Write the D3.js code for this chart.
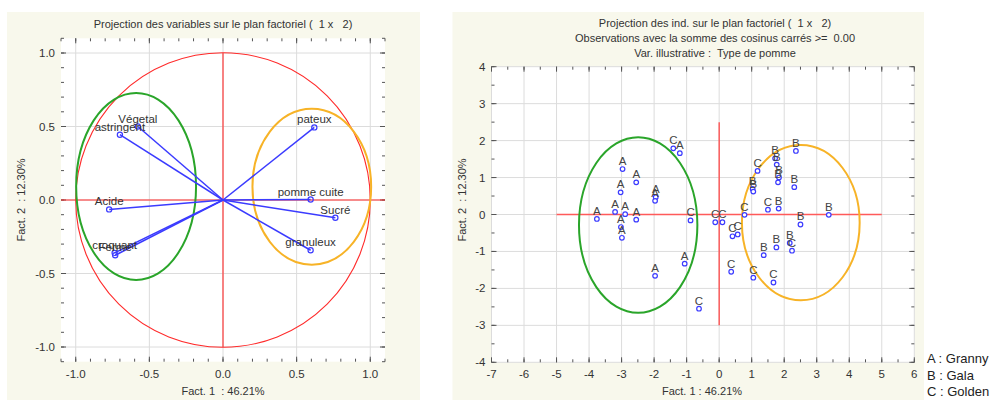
<!DOCTYPE html>
<html><head><meta charset="utf-8">
<script src="https://cdn.jsdelivr.net/npm/d3@7/dist/d3.min.js"></script>
<style>body{margin:0;background:#fff}svg{display:block;font-family:"Liberation Sans",Arial,sans-serif}</style>
</head><body>
<svg id="c" width="997" height="400"></svg>
<script>
// ---------- data: variables (left) ----------
const varNames = ["Végetal","astringent","pateux","pomme cuite","Sucré","granuleux","Acide","croquant","Ferme"];
const varF1 = [-0.578,-0.700,0.620,0.595,0.763,0.595,-0.773,-0.736,-0.732];
const varF2 = [0.500,0.444,0.494,0.003,-0.121,-0.342,-0.064,-0.360,-0.376];
const leftTicks = [-1,-0.5,0,0.5,1];
const leftEllipseCX = [-0.59, 0.603];
const leftEllipseCY = [0.092, 0.09];
const leftEllipseRX = [0.407, 0.403];
const leftEllipseRY = [0.636, 0.53];

// ---------- data: individuals (right) ----------
const indGroup = [
 "A","A","A","A","A","A","A","A","A","A","A","A","A","A",
 "B","B","B","B","B","B","B","B","B","B","B","B","B","B",
 "C","C","C","C","C","C","C","C","C","C","C","C","C","C"];
const indF1 = [
 -1.21,-2.97,-2.55,-3.03,-1.95,-1.97,-3.76,-3.20,-2.89,-2.55,-3.02,-2.99,-1.06,-1.97,
 2.36,1.72,1.77,1.84,1.81,1.03,1.05,2.31,1.83,2.50,3.37,1.76,2.17,1.37,
 -1.41,1.18,1.50,0.78,-0.88,-0.12,0.10,0.41,0.57,2.24,0.37,1.05,1.67,-0.62];
const indF2 = [
 1.66,1.23,0.87,0.60,0.47,0.37,-0.12,0.07,0.01,-0.14,-0.34,-0.63,-1.33,-1.66,
 1.72,1.52,1.35,1.00,0.87,0.69,0.62,0.74,0.16,-0.27,-0.01,-0.89,-0.77,-1.10,
 1.79,1.18,0.13,-0.01,-0.16,-0.21,-0.21,-0.59,-0.54,-0.98,-1.55,-1.71,-1.84,-2.55];
const rightXTicks = [-7,-6,-5,-4,-3,-2,-1,0,1,2,3,4,5,6];
const rightYTicks = [-4,-3,-2,-1,0,1,2,3,4];
const rightEllipseCX = [-2.49, 2.51];
const rightEllipseCY = [-0.285, -0.22];
const rightEllipseRX = [1.82, 1.81];
const rightEllipseRY = [2.375, 2.10];
const legendItems = ["A : Granny","B : Gala","C : Golden"];

const svg = d3.select("#c");
const BG = "#f8f8ec", TXT = "#333", FRAME = "#555", GRID = "#dcdcdc";
const BLUE = "#3b3bff", RED = "#ff2a2a", GREEN = "#2aa52a", ORANGE = "#f7b327";

// panels
svg.append("rect").attr("x",7).attr("y",12).attr("width",413).attr("height",388).attr("fill",BG);
svg.append("rect").attr("x",452.5).attr("y",12).attr("width",471.5).attr("height",388).attr("fill",BG);

function frame(g, x, y, minorX, minorY, xt, yt, fmt, xLabelY) {
  const [x0,x1] = x.range(), [y1,y0] = y.range();
  g.append("rect").attr("x",x0).attr("y",y0).attr("width",x1-x0).attr("height",y1-y0).attr("fill","#fff");
  g.selectAll(".gx").data(xt).join("line").attr("x1",d=>x(d)).attr("x2",d=>x(d)).attr("y1",y0).attr("y2",y1)
    .attr("stroke",GRID).attr("stroke-width",1);
  g.selectAll(".gy").data(yt).join("line").attr("class","gy").attr("y1",d=>y(d)).attr("y2",d=>y(d)).attr("x1",x0).attr("x2",x1)
    .attr("stroke",GRID).attr("stroke-width",1);
  const tk = g.append("g").attr("stroke",FRAME).attr("stroke-width",1);
  const addT = (vals, len, horiz) => vals.forEach(v => {
    if (horiz) {
      tk.append("line").attr("x1",x(v)).attr("x2",x(v)).attr("y1",y1).attr("y2",y1-len);
      tk.append("line").attr("x1",x(v)).attr("x2",x(v)).attr("y1",y0).attr("y2",y0+len);
    } else {
      tk.append("line").attr("y1",y(v)).attr("y2",y(v)).attr("x1",x0).attr("x2",x0+len);
      tk.append("line").attr("y1",y(v)).attr("y2",y(v)).attr("x1",x1).attr("x2",x1-len);
    }
  });
  addT(minorX,3,true); addT(minorY,3,false); addT(xt,5,true); addT(yt,5,false);
  g.selectAll(".lx").data(xt).join("text").attr("x",d=>x(d)).attr("y",y1+16).attr("text-anchor","middle")
    .attr("font-size",11.5).attr("fill",TXT).text(fmt);
  g.selectAll(".ly").data(yt).join("text").attr("class","ly").attr("x",x0-6).attr("y",d=>y(d)+4).attr("text-anchor","end")
    .attr("font-size",11.5).attr("fill",TXT).text(fmt);
  return [x0,x1,y0,y1];
}

// ---------- left chart ----------
const xL = d3.scaleLinear().domain([-1.1,1.1]).range([61,385]);
const yL = d3.scaleLinear().domain([-1.1,1.1]).range([361.7,38.3]);
const gL = svg.append("g");
const minL = d3.range(-11,12).map(i=>i/10);
frame(gL, xL, yL, minL, minL, leftTicks, leftTicks, d=>d3.format(".1f")(d).replace("−","-"));
gL.append("circle").attr("cx",xL(0)).attr("cy",yL(0)).attr("r",xL(1)-xL(0)).attr("fill","none").attr("stroke",RED).attr("stroke-width",1.1);
gL.append("line").attr("x1",xL(-1.1)).attr("x2",xL(1.1)).attr("y1",yL(0)).attr("y2",yL(0)).attr("stroke",RED).attr("stroke-width",1.1);
gL.append("line").attr("x1",xL(0)).attr("x2",xL(0)).attr("y1",yL(1)).attr("y2",yL(-1)).attr("stroke",RED).attr("stroke-width",1.1);
const lCols=[GREEN,ORANGE];
leftEllipseCX.forEach((cx,i)=>{
  gL.append("ellipse").attr("cx",xL(cx)).attr("cy",yL(leftEllipseCY[i]))
    .attr("rx",xL(leftEllipseRX[i])-xL(0)).attr("ry",yL(0)-yL(leftEllipseRY[i]))
    .attr("fill","none").attr("stroke",lCols[i]).attr("stroke-width",2);
});
varNames.forEach((n,i)=>{
  gL.append("line").attr("x1",xL(0)).attr("y1",yL(0)).attr("x2",xL(varF1[i])).attr("y2",yL(varF2[i]))
    .attr("stroke",BLUE).attr("stroke-width",1.5);
});
varNames.forEach((n,i)=>{
  gL.append("circle").attr("cx",xL(varF1[i])).attr("cy",yL(varF2[i])).attr("r",2.6)
    .attr("fill","none").attr("stroke",BLUE).attr("stroke-width",1.2);
  gL.append("text").attr("x",xL(varF1[i])).attr("y",yL(varF2[i])-4).attr("text-anchor","middle")
    .attr("font-size",11.5).attr("fill",TXT).text(n);
});
svg.append("text").attr("x",223).attr("y",28).attr("text-anchor","middle").attr("font-size",11).attr("fill",TXT)
  .attr("xml:space","preserve").style("white-space","pre").text("Projection des variables sur le plan factoriel (  1 x   2)");
svg.append("text").attr("x",223).attr("y",395).attr("text-anchor","middle").attr("font-size",11).attr("fill",TXT)
  .style("white-space","pre").text("Fact. 1  : 46.21%");
svg.append("text").attr("transform","translate(25,200) rotate(-90)").attr("text-anchor","middle").attr("font-size",11).attr("fill",TXT)
  .style("white-space","pre").text("Fact. 2  : 12.30%");

// ---------- right chart ----------
const xR = d3.scaleLinear().domain([-7,6]).range([491.5,914.3]);
const yR = d3.scaleLinear().domain([-4,4]).range([362.3,66.7]);
const gR = svg.append("g");
frame(gR, xR, yR, d3.range(-7,6.01,0.5), d3.range(-4,4.01,0.5), rightXTicks, rightYTicks, d=>String(d));
gR.append("line").attr("x1",xR(-5)).attr("x2",xR(5)).attr("y1",yR(0)).attr("y2",yR(0)).attr("stroke","#ff5a5a").attr("stroke-width",1.4);
gR.append("line").attr("x1",xR(0)).attr("x2",xR(0)).attr("y1",yR(2.5)).attr("y2",yR(-3)).attr("stroke","#ff3a3a").attr("stroke-width",1.2);
rightEllipseCX.forEach((cx,i)=>{
  gR.append("ellipse").attr("cx",xR(cx)).attr("cy",yR(rightEllipseCY[i]))
    .attr("rx",xR(rightEllipseRX[i])-xR(0)).attr("ry",yR(0)-yR(rightEllipseRY[i]))
    .attr("fill","none").attr("stroke",lCols[i]).attr("stroke-width",2);
});
indGroup.forEach((gname,i)=>{
  gR.append("circle").attr("cx",xR(indF1[i])).attr("cy",yR(indF2[i])).attr("r",2.3)
    .attr("fill","#fff").attr("stroke",BLUE).attr("stroke-width",1.2);
});
indGroup.forEach((gname,i)=>{
  gR.append("text").attr("x",xR(indF1[i])).attr("y",yR(indF2[i])-4).attr("text-anchor","middle")
    .attr("font-size",11.5).attr("fill","#444").text(gname);
});
const tR = ["Projection des ind. sur le plan factoriel (  1 x   2)","Observations avec la somme des cosinus carrés >=  0.00","Var. illustrative :  Type de pomme"];
tR.forEach((t,i)=>svg.append("text").attr("x",715).attr("y",27+i*15).attr("text-anchor","middle").attr("font-size",11)
  .attr("fill",TXT).style("white-space","pre").text(t));
svg.append("text").attr("x",702).attr("y",395).attr("text-anchor","middle").attr("font-size",11).attr("fill",TXT)
  .style("white-space","pre").text("Fact. 1 : 46.21%");
svg.append("text").attr("transform","translate(466,200) rotate(-90)").attr("text-anchor","middle").attr("font-size",11).attr("fill",TXT)
  .style("white-space","pre").text("Fact. 2  : 12.30%");
legendItems.forEach((t,i)=>svg.append("text").attr("x",927).attr("y",363+i*16.7).attr("font-size",13).attr("fill","#222").text(t));
</script>
</body></html>
